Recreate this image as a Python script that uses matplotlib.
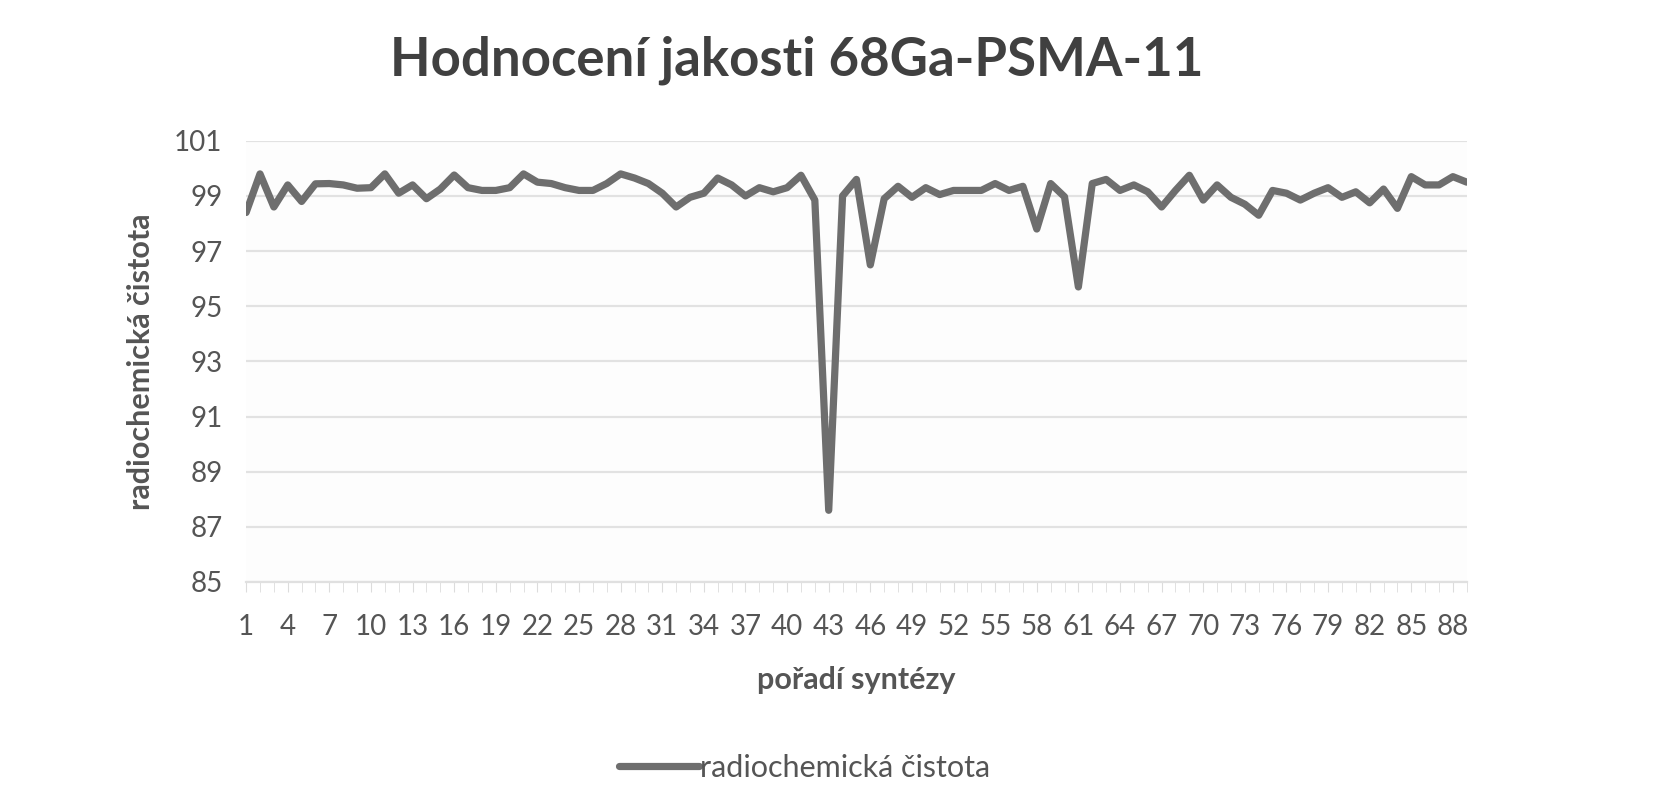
import matplotlib.pyplot as plt
import numpy as np

plt.rcParams["font.family"] = ["Lato", "DejaVu Sans"]

# poradi synteze 1..89
synteza = list(range(1, 90))
cistota = [
    98.4, 99.8, 98.6, 99.4, 98.8, 99.44, 99.45, 99.4, 99.28, 99.3,
    99.8, 99.1, 99.4, 98.9, 99.25, 99.76, 99.3, 99.2, 99.2, 99.3,
    99.8, 99.5, 99.45, 99.3, 99.2, 99.2, 99.45, 99.8, 99.65, 99.45,
    99.1, 98.6, 98.95, 99.1, 99.65, 99.4, 99.0, 99.3, 99.15, 99.3,
    99.75, 98.85, 87.6, 99.0, 99.6, 96.5, 98.9, 99.35, 98.95, 99.3,
    99.05, 99.2, 99.2, 99.2, 99.45, 99.2, 99.35, 97.8, 99.45, 98.97,
    95.7, 99.45, 99.6, 99.2, 99.4, 99.15, 98.6, 99.2, 99.75, 98.85,
    99.4, 98.95, 98.7, 98.3, 99.2, 99.1, 98.85, 99.1, 99.3, 98.95,
    99.15, 98.75, 99.25, 98.55, 99.7, 99.4, 99.4, 99.7, 99.5,
]
yticks = [85, 87, 89, 91, 93, 95, 97, 99, 101]
xticks_lab = list(range(1, 90, 3))

text_col = "#555555"
line_col = "#6e6e6e"

fig = plt.figure(figsize=(16.63, 8.0), dpi=100)
ax = fig.add_axes([0.148, 0.2725, 0.734, 0.5515])
ax.set_facecolor("#fdfdfd")

ax.plot(synteza, cistota, color=line_col, lw=5.2, solid_joinstyle="round",
        solid_capstyle="round", label="radiochemická čistota", zorder=3)

ax.set_xlim(1, 89)
ax.set_ylim(85, 101)
ax.set_yticks(yticks)
ax.set_xticks(xticks_lab)
ax.set_xticks(synteza, minor=True)
ax.grid(axis="y", color="#e2e2e2", lw=1.6)
for s in ["top", "right", "left"]:
    ax.spines[s].set_visible(False)
ax.spines["bottom"].set_color("#e0e0e0")
ax.spines["bottom"].set_linewidth(1.6)
ax.tick_params(axis="y", length=0, labelsize=20, labelcolor=text_col, pad=17)
ax.tick_params(axis="x", which="both", length=7, color="#dcdcdc",
               labelsize=20, labelcolor=text_col, pad=16)

ax.set_xlabel("pořadí syntézy", fontsize=22, fontweight="bold",
              color=text_col, labelpad=19)
ax.set_ylabel("radiochemická čistota", fontsize=22, fontweight="bold",
              color=text_col, labelpad=14)

fig.text(0.479, 0.925, "Hodnocení jakosti 68Ga-PSMA-11", fontsize=38,
         fontweight="bold", color="#404040", ha="center", va="center")

fig.legend(loc="center", bbox_to_anchor=(0.484, 0.04), frameon=False,
           fontsize=22, labelcolor=text_col, handlelength=2.6,
           handletextpad=0.05)

fig.savefig("out.png", dpi=100, facecolor="white")
